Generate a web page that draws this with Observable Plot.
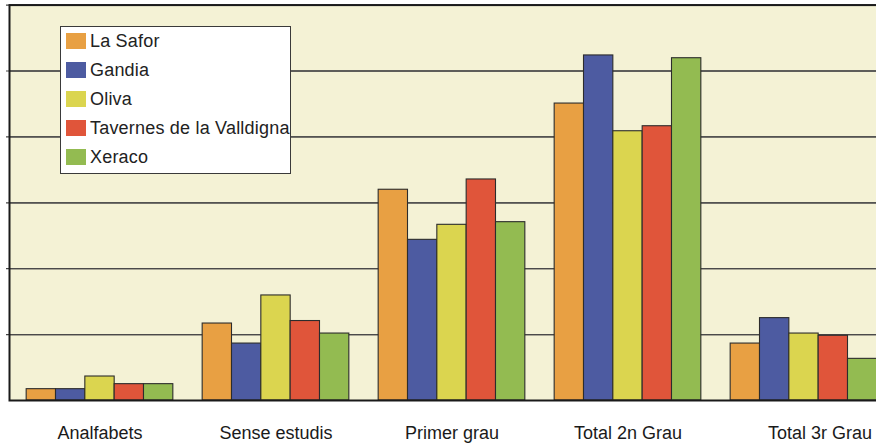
<!DOCTYPE html>
<html>
<head>
<meta charset="utf-8">
<script src="https://cdn.jsdelivr.net/npm/d3@7"></script>
<script src="https://cdn.jsdelivr.net/npm/@observablehq/plot@0.6"></script>
<style>
  html, body { margin: 0; padding: 0; background: #fff; overflow: hidden; }
  #wrap { position: relative; width: 876px; height: 444px; font-family: "Liberation Sans", Arial, Helvetica, sans-serif; }
  #legend { position: absolute; left: 60px; top: 26px; width: 229px; height: 146px; background: #fff; border: 1.5px solid #3a3a3a; }
  .row { position: absolute; left: 5px; height: 20px; display: flex; align-items: center; font-size: 18px; letter-spacing: 0.2px; color: #222; white-space: nowrap; }
  .sw { width: 20px; height: 16px; margin-right: 4px; }
</style>
</head>
<body>
<div id="wrap"><div id="chart"></div><div id="legend"></div></div>
<script>
const categories = ["Analfabets", "Sense estudis", "Primer grau", "Total 2n Grau", "Total 3r Grau"];
const series = ["La Safor", "Gandia", "Oliva", "Tavernes de la Valldigna", "Xeraco"];
const colors = ["#e8a043", "#4d5ba1", "#dbd54f", "#e0553a", "#93bb51"];
const laSafor  = [0.86, 5.84, 15.99, 22.53, 4.32];
const gandia   = [0.86, 4.32, 12.19, 26.18, 6.25];
const oliva    = [1.82, 7.97, 13.33, 20.43, 5.08];
const tavernes = [1.24, 6.03, 16.77, 20.81, 4.91];
const xeraco   = [1.24, 5.08, 13.53, 25.97, 3.16];
const yTicks = [5, 10, 15, 20, 25, 30];

const seriesValues = [laSafor, gandia, oliva, tavernes, xeraco];
const data = [];
categories.forEach((c, ci) => series.forEach((s, si) => data.push({cat: c, series: s, value: seriesValues[si][ci]})));
const key = (c, s) => c + "|" + s;
const xDomain = [];
categories.forEach((c, ci) => {
  if (ci > 0) xDomain.push("gap" + ci);
  series.forEach(s => xDomain.push(key(c, s)));
});
const last = categories[categories.length - 1];

const chart = Plot.plot({
  width: 876,
  height: 444,
  marginLeft: 9,
  marginRight: -3,
  marginTop: 4.6,
  marginBottom: 44,
  style: {background: "transparent", fontFamily: "'Liberation Sans', Arial, sans-serif"},
  x: {type: "band", domain: xDomain, range: [11.5, 891.5], paddingInner: 0, paddingOuter: 0.5, round: false, axis: null},
  y: {domain: [0, 30], axis: null},
  color: {domain: series, range: colors},
  marks: [
    Plot.frame({fill: "#f4f2d5", stroke: "none"}),
    Plot.tickY(yTicks, {y: d => d, x: null, stroke: "#444", strokeWidth: 1.2, insetLeft: -3}),
    Plot.ruleY(yTicks, {stroke: "#4a4a4a", strokeWidth: 1.3}),
    Plot.barY(data, {x: d => key(d.cat, d.series), y: "value", fill: "series", stroke: "#2c2c2c", strokeWidth: 1.1}),
    Plot.frame({stroke: "#1a1a1a", strokeWidth: 2, fill: "none"}),
    Plot.text(categories.filter(c => c !== last), {x: c => key(c, series[2]), frameAnchor: "bottom", lineAnchor: "middle", dy: 32.5, fontSize: 18, fill: "#1a1a1a", text: d => d}),
    Plot.text([last], {x: c => key(c, series[2]), frameAnchor: "bottom", lineAnchor: "middle", dy: 32.5, dx: 16, fontSize: 18, fill: "#1a1a1a", text: d => d})
  ]
});
document.getElementById("chart").appendChild(chart);

const legend = document.getElementById("legend");
series.forEach((s, i) => {
  const row = document.createElement("div");
  row.className = "row";
  row.style.top = (4 + i * 29) + "px";
  const sw = document.createElement("div");
  sw.className = "sw";
  sw.style.background = colors[i];
  row.appendChild(sw);
  const t = document.createElement("span");
  t.textContent = s;
  row.appendChild(t);
  legend.appendChild(row);
});
</script>
</body>
</html>
